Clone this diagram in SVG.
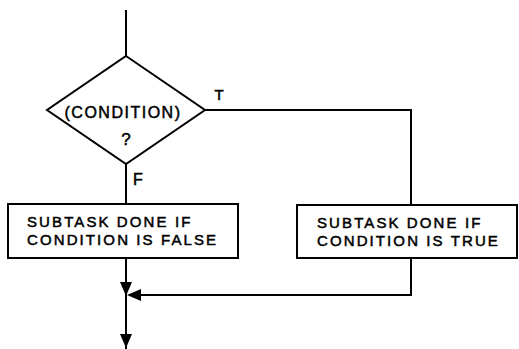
<svg xmlns="http://www.w3.org/2000/svg" width="519" height="349" viewBox="0 0 519 349">
<style>
.ln{fill:none;stroke:#000;stroke-width:2}
.bx{fill:#fff;stroke:#000;stroke-width:2}
.t{font-family:"Liberation Sans",Arial,sans-serif;fill:#000;stroke:#000;stroke-width:0.5}
.bt{font-size:15px;letter-spacing:2.1px}
</style>
<defs>
<marker id="ah" viewBox="0 0 10 10" refX="10" refY="5" markerWidth="6" markerHeight="6" markerUnits="userSpaceOnUse" orient="auto">
<path d="M0,0 L10,5 L0,10 Z" fill="#000"/>
</marker>
</defs>
<rect width="519" height="349" fill="#fff"/>
<g id="connectors">
<line class="ln" x1="126" y1="10" x2="126" y2="56"/>
<line class="ln" x1="126" y1="164" x2="126" y2="204"/>
<polyline class="ln" points="205,110 411,110 411,205"/>
<line class="ln" x1="126" y1="258" x2="126" y2="349"/>
<polyline class="ln" points="411,258 411,295 138,295"/>
<path d="M120,282 L132,282 L126,296 Z" fill="#000"/>
<path d="M141,289 L141,301 L127,295 Z" fill="#000"/>
<path d="M120,334 L132,334 L126,348 Z" fill="#000"/>
<text class="t" x="219" y="100" font-size="15" text-anchor="middle">T</text>
<text class="t" x="138" y="185" font-size="16" text-anchor="middle">F</text>
</g>
<g id="decision">
<polygon class="bx" points="126,56 205,110 126,164 47,110"/>
<text class="t" x="123" y="118" font-size="16" letter-spacing="1.5" text-anchor="middle">(CONDITION)</text>
<text class="t" x="126" y="145" font-size="17" text-anchor="middle">?</text>
</g>
<g id="false-task">
<rect class="bx" x="8" y="204" width="230" height="54"/>
<text class="t bt" x="27" y="227">SUBTASK DONE IF</text>
<text class="t bt" x="27" y="245">CONDITION IS FALSE</text>
</g>
<g id="true-task">
<rect class="bx" x="297" y="205" width="220" height="53"/>
<text class="t bt" x="317" y="228">SUBTASK DONE IF</text>
<text class="t bt" x="317" y="246">CONDITION IS TRUE</text>
</g>
</svg>
